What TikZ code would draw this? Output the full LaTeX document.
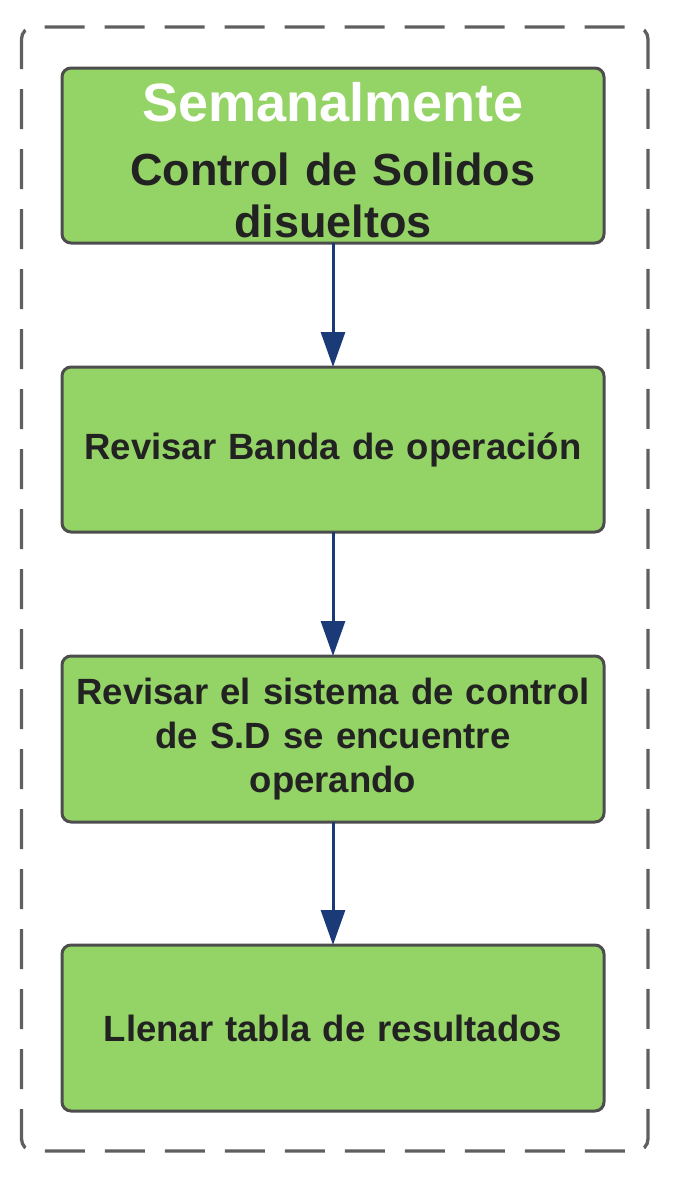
\documentclass[tikz,border=0pt]{standalone}
\usepackage{fontspec}
\setmainfont{Liberation Sans}
\usepackage{tikz}
\usetikzlibrary{arrows.meta,positioning}
\definecolor{boxgreen}{HTML}{94D366}
\definecolor{boxline}{HTML}{4D4D4D}
\definecolor{flownavy}{HTML}{1B3A78}
\definecolor{textdark}{HTML}{222222}
\begin{document}
\begin{tikzpicture}[x=1pt,y=-1pt,
	stage/.style={draw=boxline,line width=3pt,fill=boxgreen,rounded corners=9pt,shape=rectangle,minimum width=542pt,inner sep=0pt,outer sep=0pt,text width=530pt,align=center,text=textdark,font=\fontsize{36.5}{44}\selectfont\bfseries},
	flow/.style={draw=flownavy,line width=3pt,-{Triangle[length=35pt,width=24pt]}}]
\useasboundingbox (0,0) rectangle (675,1189);
% dashed frame
\draw[boxline!90,line width=3.3pt,rounded corners=12pt,dash pattern=on 40pt off 20pt,dash phase=10pt] (21.5,27) rectangle (648,1151);
\node[stage,minimum height=175pt,font=\fontsize{45}{52}\selectfont\bfseries] (s1) at (333,155.5) {{\color{white}\fontsize{54}{61}\selectfont\rule{0pt}{48.4pt}Semanalmente}\\[12pt]Control de Solidos\\disueltos};
\node[stage,minimum height=165pt] (s2) at (333,449.5) {Revisar Banda de operación};
\node[stage,minimum height=166pt] (s3) at (333,739) {Revisar el sistema de control\\de S.D se encuentre\\operando};
\node[stage,minimum height=166pt] (s4) at (333,1028) {Llenar tabla de resultados};
\draw[flow] (s1) -- (s2);
\draw[flow] (s2) -- (s3);
\draw[flow] (s3) -- (s4);
\end{tikzpicture}
\end{document}
